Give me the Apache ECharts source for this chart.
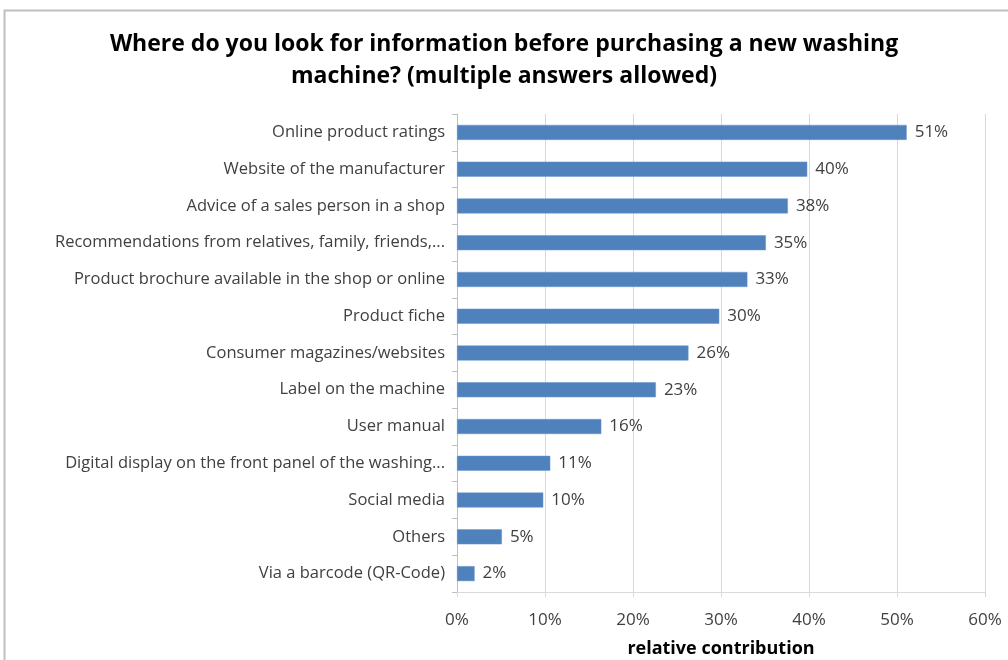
<!DOCTYPE html>
<html>
<head>
<meta charset="utf-8">
<script src="https://cdn.jsdelivr.net/npm/echarts@6/dist/echarts.min.js"></script>
<style>
  html, body { margin: 0; padding: 0; background: #fff; }
  #chart { width: 1008px; height: 660px; }
</style>
</head>
<body>
<div id="chart"></div>
<script>
  // categories, top to bottom
  var categories = [
    'Online product ratings',
    'Website of the manufacturer',
    'Advice of a sales person in a shop',
    'Recommendations from relatives, family, friends,...',
    'Product brochure available in the shop or online',
    'Product fiche',
    'Consumer magazines/websites',
    'Label on the machine',
    'User manual',
    'Digital display on the front panel of the washing...',
    'Social media',
    'Others',
    'Via a barcode (QR-Code)'
  ]
  // share of respondents, in percent
  var values = [51.1, 39.8, 37.6, 35.1, 33.0, 29.8, 26.3, 22.6, 16.4, 10.6, 9.8, 5.1, 2.0]
  var xTicks = [0, 10, 20, 30, 40, 50, 60]

  var font = '"Open Sans", Lato, sans-serif'
  var chart = echarts.init(document.getElementById('chart'))

  var option = {
    backgroundColor: '#fff',
    animation: false,
    // chart border like the spreadsheet frame
    graphic: [{
      type: 'rect',
      shape: { x: 4.5, y: 10.5, width: 1100, height: 700 },
      style: { fill: 'none', stroke: '#bfbfbf', lineWidth: 2 },
      silent: true
    }],
    title: {
      text: 'Where do you look for information before purchasing a new washing\nmachine? (multiple answers allowed)',
      left: 'center',
      top: 23,
      textStyle: {
        fontFamily: font,
        fontSize: 23,
        fontWeight: 'bold',
        color: '#000',
        lineHeight: 32
      }
    },
    grid: {
      left: 457,
      right: 23,
      top: 114,
      bottom: 68,
      outerBoundsMode: 'none'   // keep the plot box where it is
    },
    xAxis: {
      type: 'value',
      min: xTicks[0],
      max: xTicks[xTicks.length - 1],
      interval: 10,
      name: 'relative contribution',
      nameLocation: 'middle',
      nameGap: 48,
      nameTextStyle: {
        fontFamily: font,
        fontSize: 18,
        fontWeight: 'bold',
        color: '#000'
      },
      axisLine: { show: true, lineStyle: { color: '#d9d9d9', width: 1 } },
      axisTick: { show: true, length: 5, lineStyle: { color: '#d9d9d9' } },
      axisLabel: {
        margin: 20,
        fontFamily: font,
        fontSize: 17,
        color: '#404040',
        formatter: '{value}%'
      },
      splitLine: { show: true, lineStyle: { color: '#d9d9d9', width: 1 } }
    },
    yAxis: {
      type: 'category',
      data: categories,
      inverse: true,
      axisLine: { show: true, lineStyle: { color: '#bfbfbf', width: 1 } },
      axisTick: { show: true, length: 5, lineStyle: { color: '#bfbfbf' } },
      axisLabel: {
        margin: 12,
        fontFamily: font,
        fontSize: 16.5,
        color: '#404040'
      }
    },
    series: [{
      type: 'bar',
      data: values,
      barWidth: 15,
      itemStyle: {
        color: '#4f81bd',
        borderColor: '#6b96cc',
        borderWidth: 0.5
      },
      label: {
        show: true,
        position: 'right',
        distance: 8,
        fontFamily: font,
        fontSize: 17,
        color: '#404040',
        formatter: function (p) { return Math.round(p.value) + '%' }
      }
    }]
  }

  chart.setOption(option)
</script>
</body>
</html>
